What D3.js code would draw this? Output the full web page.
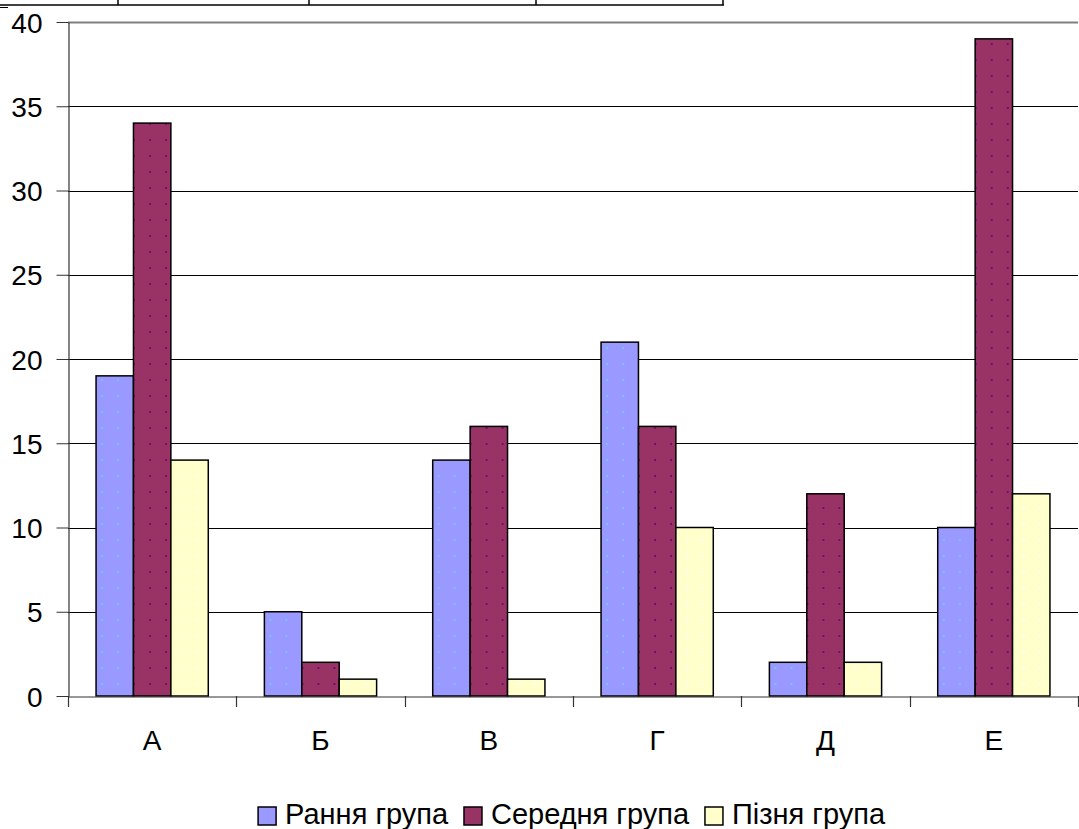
<!DOCTYPE html>
<html>
<head>
<meta charset="utf-8">
<script src="https://cdn.jsdelivr.net/npm/d3@7/dist/d3.min.js"></script>
<style>
  html, body { margin: 0; padding: 0; background: #fff; }
  svg { display: block; }
  text { font-family: "Liberation Sans", Arial, sans-serif; fill: #000; }
</style>
</head>
<body>
<svg id="chart" width="1079" height="829"></svg>
<script>
// Categories along the x axis
const categories = ["А", "Б", "В", "Г", "Д", "Е"];
// Series names (legend order)
const seriesNames = ["Рання група", "Середня група", "Пізня група"];
// Values per series, one entry per category
const early  = [19, 5, 14, 21, 2, 10];
const middle = [34, 2, 16, 16, 12, 39];
const late   = [14, 1, 1, 10, 2, 12];
// Y axis ticks
const yTicks = [0, 5, 10, 15, 20, 25, 30, 35, 40];

const seriesValues = [early, middle, late];
const fills = ["#9999FF", "#993366", "#FFFFCC"];
const dotColors = ["#66CCFF", "#6E0A6E", "#FFFFFF"];

const svg = d3.select("#chart");
const plot = { left: 68, right: 1078, top: 22, bottom: 696 };

// Dotted fill patterns, one per series
const defs = svg.append("defs");
fills.forEach((f, i) => {
  const p = defs.append("pattern")
    .attr("id", "pat" + i)
    .attr("patternUnits", "userSpaceOnUse")
    .attr("x", 5).attr("y", 11)
    .attr("width", 16).attr("height", 16);
  p.append("rect").attr("width", 16).attr("height", 16).attr("fill", f);
  p.append("rect").attr("x", 0).attr("y", 0).attr("width", 2).attr("height", 2)
    .attr("fill", dotColors[i]).attr("opacity", 0.9);
});

// Table border fragment along the top edge
const topRule = svg.append("g").attr("stroke", "#000").attr("stroke-width", 1.5);
topRule.append("line").attr("x1", 0).attr("x2", 724).attr("y1", 5).attr("y2", 5);
[118, 309, 536, 723].forEach(x =>
  topRule.append("line").attr("x1", x).attr("x2", x).attr("y1", 0).attr("y2", 5));
topRule.append("line").attr("x1", 0).attr("x2", 8).attr("y1", 7.5).attr("y2", 7.5)
  .attr("stroke-width", 1);

// Scales
const y = d3.scaleLinear().domain([0, 40]).range([plot.bottom, plot.top]);
const x0 = d3.scaleBand().domain(categories).range([plot.left, plot.right]).padding(0);
const barW = x0.bandwidth() / 4.5;
const x1 = d3.scaleBand().domain(d3.range(seriesNames.length))
  .range([0, barW * 3]).padding(0);
const groupOffset = (x0.bandwidth() - barW * 3) / 2;

// Horizontal gridlines
const grid = svg.append("g");
grid.selectAll("line").data(yTicks.filter(t => t > 0)).join("line")
  .attr("x1", plot.left).attr("x2", plot.right)
  .attr("y1", d => Math.round(y(d)) + 0.5).attr("y2", d => Math.round(y(d)) + 0.5)
  .attr("stroke", d => d === 40 ? "#808080" : "#000")
  .attr("stroke-width", d => d === 40 ? 2 : 1);

// Bars
const groups = svg.append("g").selectAll("g").data(categories).join("g")
  .attr("transform", c => `translate(${x0(c) + groupOffset},0)`);
groups.selectAll("rect")
  .data((c, ci) => seriesValues.map((vals, si) => ({ si, v: vals[ci] })))
  .join("rect")
  .attr("x", d => x1(d.si))
  .attr("y", d => y(d.v))
  .attr("width", x1.bandwidth())
  .attr("height", d => y(0) - y(d.v))
  .attr("fill", d => `url(#pat${d.si})`)
  .attr("stroke", "#000")
  .attr("stroke-width", 1.5);

// Y axis
const yAxis = svg.append("g")
  .attr("transform", `translate(${plot.left + 0.5},0)`)
  .call(d3.axisLeft(y).tickValues(yTicks).tickSize(12).tickPadding(14).tickSizeOuter(0));
yAxis.select(".domain").attr("stroke", "#333").attr("stroke-width", 1.2);
yAxis.selectAll(".tick line").attr("stroke", "#333");
yAxis.selectAll("text").attr("font-size", 28).attr("font-family", "Liberation Sans, Arial, sans-serif")
  .attr("fill", "#000").attr("dy", "0.36em");

// X axis
const xAxis = svg.append("g")
  .attr("transform", `translate(0,${plot.bottom + 0.5})`)
  .call(d3.axisBottom(x0).tickSize(0).tickPadding(34));
xAxis.select(".domain").attr("stroke", "#333").attr("stroke-width", 1.2);
xAxis.selectAll("text").attr("font-size", 28).attr("font-family", "Liberation Sans, Arial, sans-serif")
  .attr("fill", "#000");
// Separator ticks between categories
const bounds = categories.map(c => x0(c)).concat([plot.right]);
svg.append("g").selectAll("line").data(bounds).join("line")
  .attr("x1", d => Math.round(d) + 0.5).attr("x2", d => Math.round(d) + 0.5)
  .attr("y1", plot.bottom).attr("y2", plot.bottom + 11)
  .attr("stroke", "#333").attr("stroke-width", 1.2);

// Legend
const legend = svg.append("g");
const items = legend.selectAll("g").data(seriesNames).join("g");
items.append("rect")
  .attr("width", 18).attr("height", 18)
  .attr("fill", (d, i) => fills[i]).attr("stroke", "#000").attr("stroke-width", 1.5);
items.append("text")
  .attr("x", 27).attr("y", 17)
  .attr("font-size", 29)
  .text(d => d);
let cursor = 0;
const positions = [];
items.each(function () {
  positions.push(cursor);
  cursor += this.getBBox().width + 15;
});
const totalW = cursor - 15;
const startX = 572 - totalW / 2;
items.attr("transform", (d, i) => `translate(${startX + positions[i]},807)`);
</script>
</body>
</html>
